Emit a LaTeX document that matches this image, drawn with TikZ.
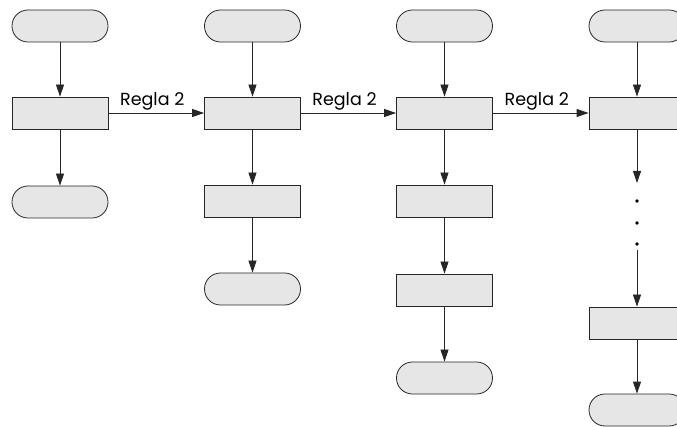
\documentclass[tikz,border=0pt]{standalone}
\usepackage{fontspec}
\setmainfont{Poppins}
\usetikzlibrary{arrows.meta}
\definecolor{boxfill}{HTML}{E6E6E6}
\begin{document}
\begin{tikzpicture}[x=1pt,y=-1pt,
  proc/.style={draw=black!85,fill=boxfill,line width=0.8pt,minimum width=96pt,minimum height=32pt,inner sep=0pt},
  term/.style={proc,rounded corners=15.9pt},
  arr/.style={draw=black!85,line width=0.8pt,-{Triangle[length=12pt,width=8pt]}},
  dotm/.style={circle,fill=black,inner sep=0pt,minimum size=3.6pt},
  lab/.style={font=\fontsize{17.5}{20}\selectfont,inner sep=2pt}]
\useasboundingbox (0,0) rectangle (677,427);
\clip (0,0) rectangle (677,427);
% column 1
\node[term] (a1) at (60,26) {};
\node[proc] (a2) at (60,113) {};
\node[term] (a3) at (60,202) {};
% column 2
\node[term] (b1) at (252.5,26) {};
\node[proc] (b2) at (252.5,113) {};
\node[proc] (b3) at (252.5,201) {};
\node[term] (b4) at (252.5,289) {};
% column 3
\node[term] (c1) at (444.5,26) {};
\node[proc] (c2) at (444.5,113) {};
\node[proc] (c3) at (444.5,201) {};
\node[proc] (c4) at (444.5,290) {};
\node[term] (c5) at (444.5,378) {};
% column 4
\node[term] (d1) at (637,26) {};
\node[proc] (d2) at (637,113) {};
\coordinate (d3) at (637,183);
\node[dotm] (e1) at (637,201) {};
\node[dotm] (e2) at (637,223) {};
\node[dotm] (e3) at (637,244) {};
\coordinate (d4) at (637,250);
\node[proc] (d5) at (637,323) {};
\node[term] (d6) at (637,410) {};
% vertical arrows
\draw[arr] (a1) -- (a2);
\draw[arr] (a2) -- (a3);
\draw[arr] (b1) -- (b2);
\draw[arr] (b2) -- (b3);
\draw[arr] (b3) -- (b4);
\draw[arr] (c1) -- (c2);
\draw[arr] (c2) -- (c3);
\draw[arr] (c3) -- (c4);
\draw[arr] (c4) -- (c5);
\draw[arr] (d1) -- (d2);
\draw[arr] (d2) -- (d3);
\draw[arr] (d4) -- (d5);
\draw[arr] (d5) -- (d6);
% horizontal arrows
\draw[arr] (a2) -- node[lab,above,xshift=-4pt] (l1) {Regla 2} (b2);
\draw[arr] (b2) -- node[lab,above,xshift=-4pt] (l2) {Regla 2} (c2);
\draw[arr] (c2) -- node[lab,above,xshift=-4pt] (l3) {Regla 2} (d2);
\end{tikzpicture}
\end{document}
